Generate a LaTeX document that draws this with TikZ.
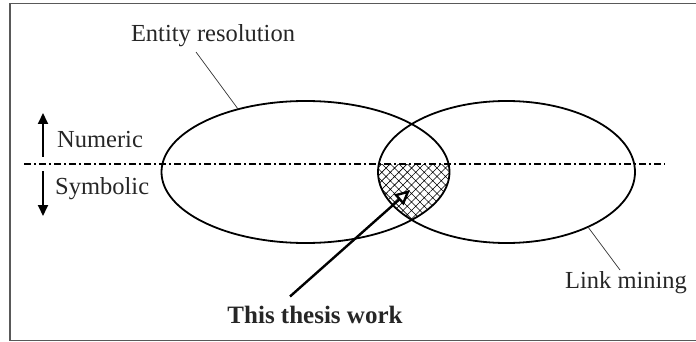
\documentclass[tikz,border=0pt]{standalone}
\usepackage{fontspec}
\setmainfont{Liberation Serif}
\usetikzlibrary{shapes.geometric,arrows.meta,patterns.meta}
\begin{document}
\begin{tikzpicture}[x=1pt,y=-1pt,
  setellipse/.style={draw, ellipse, line width=1.8pt, inner sep=0pt, outer sep=0pt},
  lbl/.style={font=\fontsize{24.5}{28}\selectfont, inner sep=0pt, anchor=base, text=black!85},
  leader/.style={line width=0.7pt, black!80},
  axisline/.style={line width=1.4pt, dash pattern=on 7pt off 3pt on 2pt off 3pt},
  dirarrow/.style={line width=1.8pt, -{Triangle[length=11pt,width=10pt]}},
  mainarrow/.style={line width=2.4pt, -{Triangle[length=15pt,width=14pt,fill=white,line width=2.4pt]}}
]
\useasboundingbox (0,0) rectangle (696,342);
\clip (0,0) rectangle (696,342);
% frame
\draw[line width=1.5pt, black!65] (710,3.5) -- (10,3.5) -- (10,340.5) -- (710,340.5);

% hatched intersection below the axis
\begin{scope}
  \clip (305.5,172) ellipse [x radius=144, y radius=71];
  \clip (506.5,172) ellipse [x radius=128.5, y radius=71];
  \fill[pattern={Hatch[angle=45,distance=6pt,line width=0.6pt]}] (370,164) rectangle (460,250);
\end{scope}

% ellipses
\node[setellipse, minimum width=288pt, minimum height=142pt] (e1) at (305.5,172) {};
\node[setellipse, minimum width=257pt, minimum height=142pt] (e2) at (506.5,172) {};

% axis
\coordinate (axL) at (24,164);
\coordinate (axR) at (665,164);
\draw[axisline] (axL) -- (axR);

% labels
\node[lbl] (er) at (213,41.5) {Entity resolution};
\node[lbl] (lm) at (626,288) {Link mining};
\node[lbl, font=\fontsize{25}{28}\selectfont\bfseries] (tw) at (315,323) {This thesis work};
\node[lbl, anchor=base west] (num) at (57,147) {Numeric};
\node[lbl, anchor=base west] (sym) at (55,194) {Symbolic};

% leaders
\coordinate (erEnd) at (196,52);
\draw[leader] (erEnd) -- (e1.137);
\coordinate (lmEnd) at (620,270);
\draw[leader] (lmEnd) -- (e2.-34);

% direction arrows
\coordinate (upS) at (43,157);
\coordinate (upE) at (43,113);
\coordinate (dnS) at (43,171);
\coordinate (dnE) at (43,216);
\draw[dirarrow] (upS) -- (upE);
\draw[dirarrow] (dnS) -- (dnE);

% main arrow
\coordinate (twTail) at (290,296.5);
\coordinate (twHead) at (410,190);
\draw[mainarrow] (twTail) -- (twHead);
\end{tikzpicture}
\end{document}
